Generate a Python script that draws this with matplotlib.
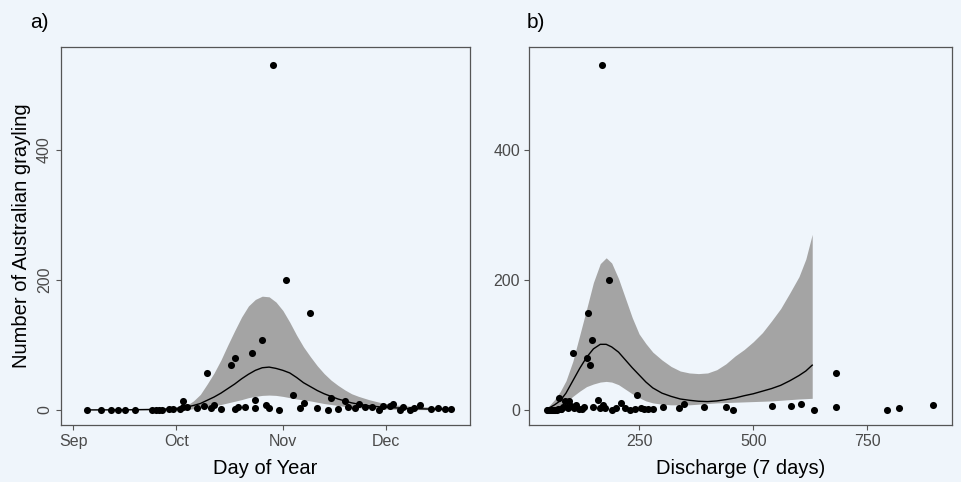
import matplotlib
matplotlib.use("Agg")
import matplotlib.pyplot as plt

plt.rcParams['font.family'] = ['Liberation Sans', 'DejaVu Sans']

# observations: day of year, 7-day discharge, grayling count
day = [248, 252, 255, 257, 259, 262, 267, 268, 269, 270, 272, 273, 275, 276, 276,
       277, 280, 282, 283, 284, 285, 287, 290, 291, 291, 292, 294, 296, 297, 297,
       299, 300, 301, 302, 304, 306, 308, 310, 311, 313, 315, 318, 319, 321, 323,
       324, 326, 327, 329, 331, 333, 334, 336, 337, 339, 340, 342, 343, 345, 348,
       350, 352, 354]
discharge = [62, 58, 55, 52, 50, 48, 60, 66, 70, 64, 72, 80, 78, 88, 84,
             92, 95, 100, 681, 108, 112, 118, 143, 136, 125, 130, 150, 106, 160, 165,
             147, 170, 175, 168, 190, 185, 245, 200, 210, 139, 220, 230, 74, 260, 96,
             302, 338, 349, 392, 440, 456, 540, 582, 605, 633, 681, 792, 818, 894, 270,
             255, 280, 240]
count = [0, 0, 0, 0, 0, 0, 0, 0, 0, 0, 1, 1, 2, 14, 4,
         5, 3, 6, 57, 3, 7, 2, 69, 80, 2, 4, 5, 88, 15, 3,
         108, 8, 3, 530, 0, 200, 23, 3, 11, 149, 3, 0, 19, 2, 14,
         5, 3, 10, 4, 5, 0, 6, 6, 9, 0, 4, 0, 3, 8, 2,
         3, 1, 2]

# fitted curve and confidence band vs day of year
fit_day = [248, 260, 268, 272, 275, 277, 279, 281, 283, 285, 287, 289, 291, 293,
           295, 297, 299, 301, 303, 305, 307, 309, 311, 313, 315, 317, 319, 321,
           323, 325, 327, 330, 333, 337, 342, 348, 354]
fit_day_mid = [0.2, 0.4, 1, 1.8, 3, 4.5, 7, 10, 15, 20, 26, 33, 40, 48,
               55, 61, 65, 66, 64, 61, 57, 50, 42, 36, 30, 25, 21, 17,
               14, 11, 9, 6.5, 5, 3.5, 2.3, 1.5, 1]
fit_day_lo = [0, 0.05, 0.2, 0.4, 0.7, 1.2, 2, 3, 4.5, 6.5, 8.5, 11, 13.5, 16,
              19, 21, 22.5, 23, 22.5, 21, 19, 17, 15.5, 14, 12, 10, 8.5, 7,
              5.5, 4.5, 3.5, 2.5, 2, 1.2, 0.8, 0.5, 0.3]
fit_day_hi = [0.5, 0.8, 1.5, 2.2, 3, 7, 14, 24, 40, 57, 77, 100, 122, 143,
              160, 170, 175, 174, 166, 153, 135, 115, 97, 82, 68, 56, 46, 38,
              31, 25, 21, 16, 12, 8, 6, 4.5, 3]

# fitted curve and confidence band vs discharge
fit_q = [48, 55, 65, 77, 90, 105, 120, 135, 150, 165, 178, 190, 205, 220, 235,
         250, 265, 280, 300, 320, 340, 360, 380, 400, 420, 440, 460, 480, 500,
         520, 540, 560, 580, 600, 615, 629]
fit_q_mid = [2, 4, 8, 14, 26, 45, 64, 81, 94, 101, 101, 97, 89, 77, 65,
             54, 43, 34, 26, 21, 17, 15, 13.5, 13, 14, 16, 18.5, 22, 25,
             29, 33, 38, 45, 53, 60, 69]
fit_q_lo = [0, 1, 3, 6, 12, 21, 29, 36, 40, 43, 44, 43, 39, 32, 25,
            19, 14, 11, 9, 8, 8, 8, 9, 10, 11, 11.5, 12, 12.5, 13,
            13.5, 14, 15, 16, 17, 17.5, 18]
fit_q_hi = [3, 8, 16, 28, 45, 75, 115, 155, 196, 225, 234, 226, 202, 172, 142,
            117, 102, 89, 77, 67, 60, 57, 56, 57, 62, 71, 83, 93, 105,
            119, 137, 156, 180, 205, 232, 270]

month_ticks = [244, 274, 305, 335]
month_labels = ['Sep', 'Oct', 'Nov', 'Dec']
q_ticks = [250, 500, 750]

bg = '#eff5fb'
band = '#a4a4a4'

fig = plt.figure(figsize=(9.62, 4.82), dpi=100, facecolor=bg)
ax1 = fig.add_axes([61 / 962, 57 / 482, 409 / 962, 378 / 482], facecolor=bg)
ax2 = fig.add_axes([529 / 962, 57 / 482, 423 / 962, 378 / 482], facecolor=bg)

ax1.fill_between(fit_day, fit_day_lo, fit_day_hi, color=band, lw=0)
ax1.plot(fit_day, fit_day_mid, color='black', lw=1.0)
ax1.scatter(day, count, s=26, color='black', zorder=3, lw=0)

ax2.fill_between(fit_q, fit_q_lo, fit_q_hi, color=band, lw=0)
ax2.plot(fit_q, fit_q_mid, color='black', lw=1.0)
ax2.scatter(discharge, count, s=26, color='black', zorder=3, lw=0)

for ax in (ax1, ax2):
    ax.set_ylim(-23, 558)
    ax.set_yticks([0, 200, 400])
    for sp in ax.spines.values():
        sp.set_color('#555555')
        sp.set_linewidth(0.9)
    ax.tick_params(length=3.5, width=0.8, color='#555555',
                   labelcolor='#4a4a4a', labelsize=11.5, pad=3)

ax1.set_xlim(240.5, 359.4)
ax1.set_xticks(month_ticks)
ax1.set_xticklabels(month_labels)
for lab in ax1.get_yticklabels():
    lab.set_rotation(90)
    lab.set_va('center')
ax1.set_xlabel('Day of Year', fontsize=14.5, labelpad=7)
ax1.set_ylabel('Number of Australian grayling', fontsize=14.5, labelpad=4)

ax2.set_xlim(9, 935)
ax2.set_xticks(q_ticks)
ax2.set_xlabel('Discharge (7 days)', fontsize=14.5, labelpad=7)

fig.text(30 / 962, 1 - 22 / 482, 'a)', fontsize=15, va='center', ha='left')
fig.text(527 / 962, 1 - 22 / 482, 'b)', fontsize=15, va='center', ha='left')

fig.savefig('out.png', dpi=100, facecolor=bg)
